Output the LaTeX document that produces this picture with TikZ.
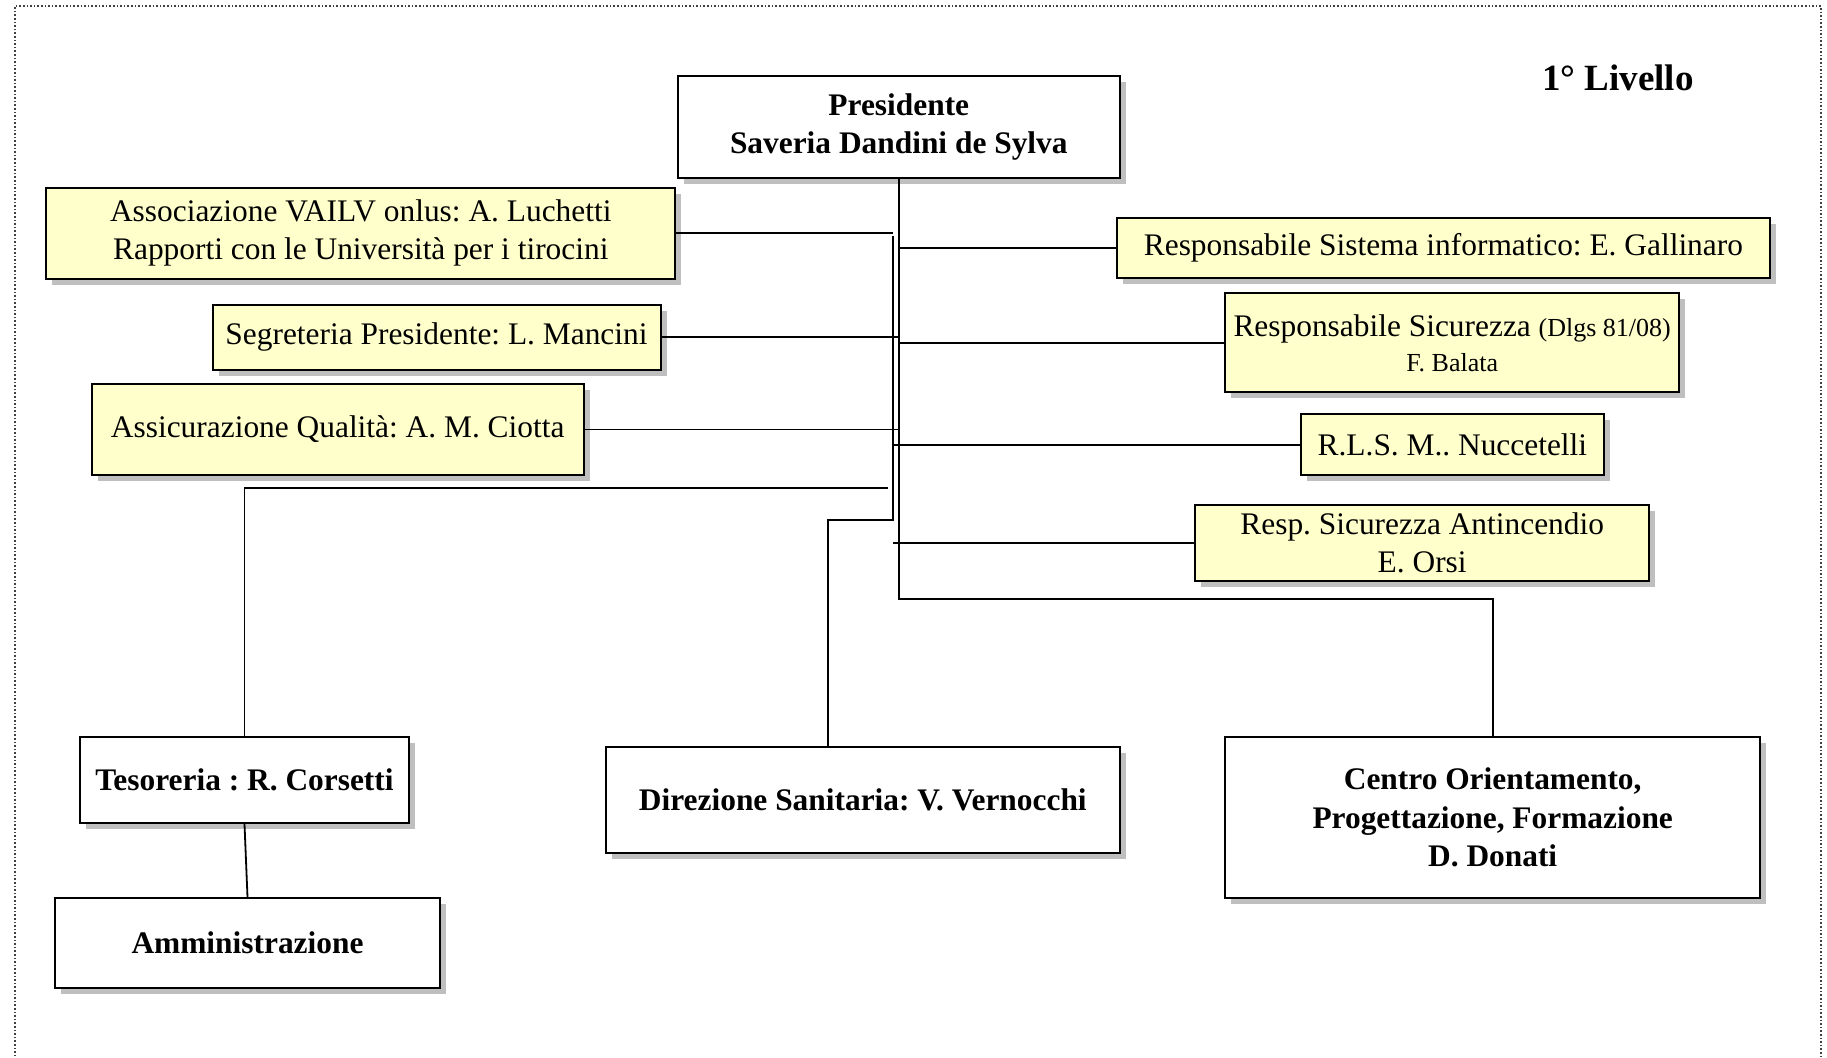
\documentclass[tikz,border=0pt]{standalone}
\usepackage{fontspec}
\setmainfont{Liberation Serif}
\frenchspacing
\usetikzlibrary{shadows}
\definecolor{yellowbg}{HTML}{FFFFCC}
\tikzset{
  box/.style={draw=black, line width=1pt, fill=white, inner sep=0pt, align=center,
    drop shadow={shadow xshift=3pt, shadow yshift=-3pt, fill=black!25, opacity=1},
    font=\fontsize{15.7}{19.2}\selectfont},
  ybox/.style={box, fill=yellowbg},
  bbox/.style={box, font=\fontsize{15.7}{18.8}\selectfont\bfseries},
  conn/.style={line width=0.9pt},
  frame/.style={densely dotted, line width=0.8pt, black!75},
}
\begin{document}
\begin{tikzpicture}[x=0.5pt,y=-0.5pt]
\useasboundingbox (0,0) rectangle (1827,1057);
\fill[white] (0,0) rectangle (1827,1057);
\draw[frame] (15,1060) -- (15,6) -- (1821,6) -- (1821,1060);

\node (livello) [anchor=base, font=\fontsize{18.5}{22}\selectfont\bfseries] at (1618,90) {1° Livello};

% top box
\node[bbox, minimum width=221pt, minimum height=51pt] (pres) at (898.8,126.7) {Presidente\\Saveria Dandini de Sylva};

% left yellow boxes
\node[ybox, minimum width=314.5pt, minimum height=45.5pt] (assoc) at (360.8,233) {Associazione VAILV onlus: A. Luchetti\\Rapporti con le Università per i tirocini};
\node[ybox, minimum width=224pt, minimum height=32.5pt] (segr) at (436.5,337) {Segreteria Presidente: L. Mancini};
\node[ybox, minimum width=246.2pt, minimum height=45.5pt] (assic) at (337.7,429.5) {Assicurazione Qualità: A. M. Ciotta};

% right yellow boxes
\node[ybox, minimum width=326.5pt, minimum height=30.3pt] (sist) at (1443.4,248) {Responsabile Sistema informatico: E. Gallinaro};
\node[ybox, minimum width=227.2pt, minimum height=49.5pt, font=\fontsize{15.7}{17.5}\selectfont] (sic) at (1452.2,342.8) {Responsabile Sicurezza {\fontsize{13}{15}\selectfont (Dlgs 81/08)}\\{\fontsize{13}{15}\selectfont F. Balata}};
\node[ybox, minimum width=151.5pt, minimum height=30.3pt] (rls) at (1452.4,444.7) {R.L.S. M.. Nuccetelli};
\node[ybox, minimum width=227.2pt, minimum height=38pt, font=\fontsize{15.7}{19.2}\selectfont] (anti) at (1422.2,543) {Resp. Sicurezza Antincendio\\E. Orsi};

% bottom white boxes
\node[bbox, minimum width=164.5pt, minimum height=43pt] (tes) at (244.5,780) {Tesoreria : R. Corsetti};
\node[bbox, minimum width=192.5pt, minimum height=45pt] (amm) at (247.5,943) {Amministrazione};
\node[bbox, minimum width=257.2pt, minimum height=53pt] (dir) at (862.8,799.7) {Direzione Sanitaria: V. Vernocchi};
\node[bbox, minimum width=267.3pt, minimum height=80.5pt, font=\fontsize{15.7}{19.2}\selectfont\bfseries] (centro) at (1492.7,817.5) {Centro Orientamento,\\Progettazione, Formazione\\D. Donati};

% helper coordinates
\coordinate (lvtop) at (893,236);
\coordinate (dirturn) at (828,520);
\coordinate (cturn) at (1492.7,599);
\coordinate (tturn) at (888,488);

% connectors
\draw[conn, line width=1.1pt] (pres.south) |- (cturn) -- (centro.north);
\draw[conn] (lvtop) |- (dirturn) -- (dirturn |- dir.north);
\draw[conn] (assoc.east) -- (assoc.east -| lvtop);
\draw[conn] (segr.east) -- (segr.east -| pres.south);
\draw[conn] (assic.east) -- (assic.east -| pres.south);
\draw[conn] (tturn) -| (tes.north);
\draw[conn] (tes.south) -- (amm.north);
\draw[conn] (pres.south |- sist.west) -- (sist.west);
\draw[conn] (pres.south |- sic.west) -- (sic.west);
\draw[conn] (lvtop |- rls.west) -- (rls.west);
\draw[conn] (lvtop |- anti.west) -- (anti.west);
\end{tikzpicture}
\end{document}
